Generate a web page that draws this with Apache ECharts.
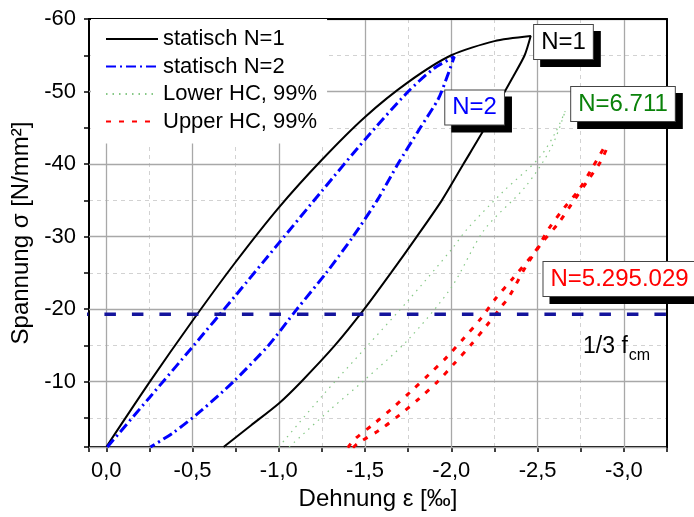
<!DOCTYPE html>
<html><head><meta charset="utf-8">
<script src="https://cdn.jsdelivr.net/npm/echarts@6/dist/echarts.min.js"></script>
<style>html,body{margin:0;padding:0;background:#fff}#c{width:694px;height:517px}</style>
</head><body><div id="c"></div>
<script>
// ---------- data ----------
const seriesNames = ['statisch N=1', 'statisch N=2', 'Lower HC, 99%', 'Upper HC, 99%'];
// statisch N=1 : loading branch then unloading branch  [strain ‰, stress N/mm²]
const n1 = [[0.0,-1.0],[-0.25,-9.9],[-0.5,-18.4],[-0.75,-26.5],[-1.0,-34.0],[-1.25,-40.6],[-1.5,-46.5],[-1.75,-51.3],
  [-2.0,-55.0],[-2.25,-56.95],[-2.46,-57.65],
  [-2.425,-55],[-2.357,-52],[-2.31,-50],[-2.195,-45],[-2.07,-40],[-1.945,-35],[-1.80,-30],[-1.65,-25],[-1.495,-20],
  [-1.325,-15],[-1.13,-10],[-1.0,-7.0],[-0.84,-4.0],[-0.68,-1.0]];
// statisch N=2
const n2 = [[-0.006,-1.0],[-0.25,-7.8],[-0.5,-14.8],[-0.75,-21.9],[-1.0,-29.1],[-1.25,-36.3],[-1.5,-43.4],[-1.75,-50.0],
  [-1.9,-53.2],[-2.017,-54.8],
  [-1.975,-52],[-1.925,-49],[-1.82,-45],[-1.69,-40],[-1.57,-35],[-1.43,-30],[-1.275,-25],[-1.105,-20],[-0.94,-15],
  [-0.737,-10],[-0.55,-6],[-0.39,-3],[-0.256,-1.0]];
// Lower HC, 99% (two curves)
const lowerA = [[-1.0,-1.0],[-1.25,-8.0],[-1.5,-14.6],[-1.75,-21.2],[-2.0,-28.2],[-2.09,-31.0],[-2.3,-36.2],[-2.507,-40.8],[-2.6,-44.2],[-2.66,-47.3]];
const lowerB = [[-1.06,-1.0],[-1.3,-6.2],[-1.5,-10.3],[-1.75,-15.8],[-2.0,-23.0],[-2.19,-30.9],[-2.43,-36.9],[-2.58,-42.3],[-2.66,-47.3]];
// Upper HC, 99% (two curves)
const upperA = [[-1.40,-0.9],[-1.439,-2.06],[-1.555,-4.27],[-1.661,-6.4],[-1.767,-8.7],[-1.873,-11.06],[-1.978,-13.5],
  [-2.076,-16.1],[-2.171,-18.7],[-2.258,-21.5],[-2.355,-24.2],[-2.49,-28.1],[-2.565,-31.1],[-2.652,-33.9],[-2.738,-36.4],
  [-2.815,-39.4],[-2.893,-42.6]];
const upperB = [[-1.43,-0.9],[-1.458,-1.5],[-1.584,-3.34],[-1.699,-5.4],[-1.815,-7.7],[-1.92,-10.0],[-2.017,-12.5],
  [-2.113,-15.06],[-2.2,-17.6],[-2.292,-20.4],[-2.334,-21.7],[-2.43,-25.8],[-2.52,-29.0],[-2.619,-31.8],[-2.7,-34.6],
  [-2.787,-37.6],[-2.864,-40.3],[-2.902,-42.2]];
// 1/3 f_cm reference level
const fcmThird = -19.3;
const fcmLineX = [0.17, -3.25];
// annotation boxes
const annoText = ['N=1', 'N=2', 'N=6.711', 'N=5.295.029'];
const annoAt = [[-2.65,-56.83],[-2.135,-47.8],[-2.995,-48.28],[-2.975,-24.16]];
const fcmLabelAt = [-2.958, -14.8];
// axis ranges
const xRange = [-3.25, 0.1];
const yRange = [-60, -1];

// ---------- style ----------
const FONT = '"Liberation Sans", Arial, sans-serif';
const annoColor = ['#000000', '#0000ff', '#0a820a', '#ff0000'];
const gridMinor = '#d2d2d2', gridMajor = '#a8a8a8';

function fmtX(v) {
  const k = v * 2;
  if (Math.abs(k - Math.round(k)) > 1e-6 || v > 1e-9) return '';
  return v.toFixed(1).replace('.', ',');
}
function fmtY(v) {
  if (Math.abs(v % 10) > 1e-6) return '';
  return String(Math.round(v));
}

const chart = echarts.init(document.getElementById('c'), null, {renderer: 'canvas'});
const lineBase = {type: 'line', symbol: 'none', showSymbol: false, smooth: 0.3, xAxisIndex: 0, yAxisIndex: 0, z: 3};
const boxLabel = {show: true, position: 'inside', fontSize: 24, fontFamily: FONT, padding: [5, 7], opacity: 1};

const option = {
  animation: false,
  backgroundColor: '#fff',
  textStyle: {fontFamily: FONT},
  grid: {left: 89, right: 27, top: 19, bottom: 70, containLabel: false},
  legend: {
    data: seriesNames, orient: 'vertical', left: 91, top: 19,
    padding: [9, 10, 11, 14], backgroundColor: '#fff',
    itemWidth: 52, itemHeight: 14, itemGap: 5.5,
    itemStyle: {opacity: 0},
    textStyle: {fontSize: 22, lineHeight: 22, color: '#000', fontFamily: FONT}
  },
  xAxis: [{
    type: 'value', position: 'bottom', min: xRange[0], max: xRange[1], inverse: true, interval: 0.25,
    axisLine: {show: true, onZero: false, lineStyle: {color: '#000', width: 2}},
    axisTick: {show: true, inside: false, length: 5, lineStyle: {color: '#000', width: 1.5}},
    axisLabel: {formatter: fmtX, fontSize: 22, color: '#000', margin: 13, fontFamily: FONT},
    splitLine: {show: true, lineStyle: {color: gridMinor, type: [4, 4], width: 1}},
    name: 'Dehnung ε [‰]', nameLocation: 'middle', nameGap: 37,
    nameTextStyle: {fontSize: 24, color: '#000', fontFamily: FONT}
  }, {
    type: 'value', position: 'top', min: xRange[0], max: xRange[1], inverse: true, interval: 0.25, z: 1,
    axisLine: {show: true, onZero: false, lineStyle: {color: '#000', width: 2}},
    axisTick: {show: false}, axisLabel: {show: false},
    splitLine: {show: true, lineStyle: {color: ['rgba(0,0,0,0)', gridMajor], width: 1.3}}
  }],
  yAxis: [{
    type: 'value', position: 'left', min: yRange[0], max: yRange[1], inverse: true, interval: 5,
    axisLine: {show: true, onZero: false, lineStyle: {color: '#000', width: 2}},
    axisTick: {show: true, inside: false, length: 5, lineStyle: {color: '#000', width: 1.5}},
    axisLabel: {formatter: fmtY, fontSize: 22, color: '#000', margin: 13, fontFamily: FONT},
    splitLine: {show: true, lineStyle: {color: gridMinor, type: [4, 4], width: 1}},
    name: 'Spannung σ [N/mm²]', nameLocation: 'middle', nameGap: 55, nameRotate: 90,
    nameTextStyle: {fontSize: 24, color: '#000', fontFamily: FONT}
  }, {
    type: 'value', position: 'right', min: yRange[0], max: yRange[1], inverse: true, interval: 5, z: 1,
    axisLine: {show: true, onZero: false, lineStyle: {color: '#000', width: 2}},
    axisTick: {show: false}, axisLabel: {show: false},
    splitLine: {show: true, lineStyle: {color: [gridMajor, 'rgba(0,0,0,0)'], width: 1.3}}
  }],
  series: [
    Object.assign({}, lineBase, {name: seriesNames[0], data: n1, smooth: 0.25, lineStyle: {color: '#000', width: 2}, itemStyle: {color: '#000'}}),
    Object.assign({}, lineBase, {name: seriesNames[1], data: n2, smooth: 0.25, lineStyle: {color: '#0000ff', width: 3, type: [10, 4, 2, 4]}, itemStyle: {color: '#0000ff'}}),
    Object.assign({}, lineBase, {name: seriesNames[2], data: lowerA, lineStyle: {color: '#86c886', width: 1.2, type: [1.5, 5]}, itemStyle: {color: '#86c886'}}),
    Object.assign({}, lineBase, {name: seriesNames[2], data: lowerB, lineStyle: {color: '#86c886', width: 1.2, type: [1.5, 5]}, itemStyle: {color: '#86c886'}}),
    Object.assign({}, lineBase, {name: seriesNames[3], data: upperA, lineStyle: {color: '#ff0000', width: 3, type: [5, 8]}, itemStyle: {color: '#ff0000'}}),
    Object.assign({}, lineBase, {name: seriesNames[3], data: upperB, lineStyle: {color: '#ff0000', width: 3, type: [5, 8]}, itemStyle: {color: '#ff0000'}}),
    Object.assign({}, lineBase, {name: 'fcm', data: fcmLineX.map(x => [x, fcmThird]), smooth: false, clip: false, z: 4,
      lineStyle: {color: '#14149c', width: 3.5, type: [11.5, 16]}}),
    {
      // drop shadows of the annotation boxes
      type: 'scatter', name: 'annoShadow', silent: true, z: 9, symbolSize: 0, clip: false,
      itemStyle: {opacity: 1},
      data: annoAt.map((p, i) => ({value: p, label: {formatter: annoText[i]}})),
      label: Object.assign({}, boxLabel, {color: 'rgba(0,0,0,0)', backgroundColor: '#000', offset: [7, 7], borderWidth: 1, borderColor: '#000'})
    },
    {
      type: 'scatter', name: 'anno', silent: true, z: 10, symbolSize: 0, clip: false,
      itemStyle: {opacity: 1},
      data: annoAt.map((p, i) => ({value: p, label: {color: annoColor[i], formatter: annoText[i]}})),
      label: Object.assign({}, boxLabel, {backgroundColor: '#fff', borderColor: '#444', borderWidth: 1})
    },
    {
      type: 'scatter', name: 'fcmlabel', silent: true, z: 10, symbolSize: 0, clip: false,
      itemStyle: {opacity: 1},
      data: [{value: fcmLabelAt}],
      label: {show: true, position: 'inside', formatter: '{a|1/3 f}{b|cm}', opacity: 1,
        rich: {a: {fontSize: 23, color: '#000', fontFamily: FONT},
               b: {fontSize: 16, color: '#000', fontFamily: FONT, padding: [17, 0, 0, 1]}}}
    }
  ]
};
chart.setOption(option);
</script>
</body></html>
